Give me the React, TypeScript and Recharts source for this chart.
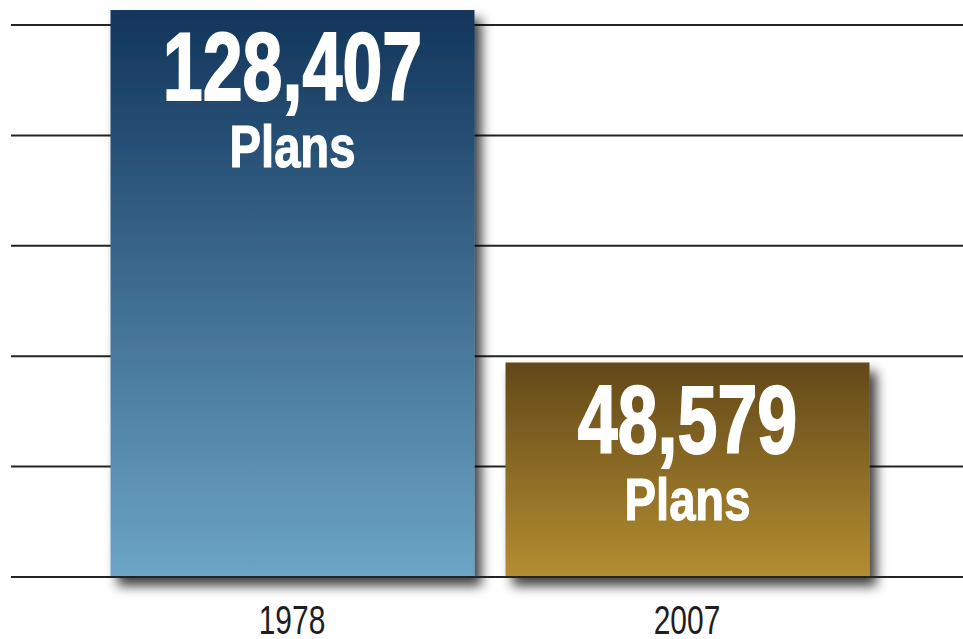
import React from "react";
import {
  BarChart,
  Bar,
  XAxis,
  YAxis,
  CartesianGrid,
  Cell,
  LabelList,
  ReferenceLine,
} from "recharts";

const years = ["1978", "2007"];
const plans = [128407, 48579];
const unitLabel = "Plans";
const gridTicks = [0, 25000, 50000, 75000, 100000, 125000];

// top / bottom colours of each bar's gradient
const barGradients = [
  ["#12355b", "#6ca5c6"],
  ["#624819", "#b48e31"],
];

const chartData = years.map((year, i) => ({ year, plans: plans[i] }));

const sans = "'Liberation Sans', Arial, sans-serif";

function YearTick(props: any) {
  const { x, y, payload } = props;
  return (
    <text
      transform={`translate(${x} ${y + 57}) scale(0.73 1)`}
      textAnchor="middle"
      fontFamily={sans}
      fontSize={41}
      fill="#1e1e1e"
    >
      {payload.value}
    </text>
  );
}

function PlanLabel(props: any) {
  const { x, y, width, value } = props;
  const cx = x + width / 2;
  return (
    <g fill="#ffffff" stroke="#ffffff" fontFamily={sans} fontWeight="bold" textAnchor="middle">
      <text transform={`translate(${cx} ${y + 90}) scale(0.74 1)`} fontSize={97} strokeWidth={2}>
        {Number(value).toLocaleString("en-US")}
      </text>
      <text transform={`translate(${cx} ${y + 157}) scale(0.8 1)`} fontSize={59} strokeWidth={1.2}>
        {unitLabel}
      </text>
    </g>
  );
}

function ShadowBar(props: any) {
  const { x, y, width, height, fill } = props;
  return (
    <rect x={x} y={y} width={width} height={height} fill={fill} filter="url(#barShadow)" />
  );
}

export default function App() {
  return (
    <div style={{ position: "absolute", left: 0, top: 0, width: 963, height: 639, background: "#fff" }}>
      <BarChart
        width={963}
        height={639}
        data={chartData}
        margin={{ top: 3, right: 0, left: 11, bottom: 0 }}
      >
        <defs>
          {barGradients.map(([top, bottom], i) => (
            <linearGradient key={i} id={`barGrad${i}`} x1="0" y1="0" x2="0" y2="1">
              <stop offset="0%" stopColor={top} />
              <stop offset="100%" stopColor={bottom} />
            </linearGradient>
          ))}
          <filter id="barShadow" x="-10%" y="-10%" width="130%" height="130%">
            <feDropShadow dx="7" dy="9" stdDeviation="6" floodColor="#000" floodOpacity="0.75" />
          </filter>
        </defs>
        <CartesianGrid vertical={false} stroke="#262324" strokeWidth={2} syncWithTicks />
        <XAxis
          dataKey="year"
          axisLine={false}
          tickLine={false}
          tickSize={0}
          tickMargin={0}
          height={62}
          padding={{ left: 83.5, right: 78.5 }}
          tick={<YearTick />}
        />
        <YAxis hide domain={[0, 130000]} ticks={gridTicks} />
        <Bar dataKey="plans" barSize={364} shape={<ShadowBar />} isAnimationActive={false}>
          {chartData.map((d, i) => (
            <Cell key={d.year} fill={`url(#barGrad${i})`} />
          ))}
          <LabelList dataKey="plans" content={<PlanLabel />} />
        </Bar>
        <ReferenceLine y={0} stroke="#262324" strokeWidth={2} />
      </BarChart>
    </div>
  );
}
